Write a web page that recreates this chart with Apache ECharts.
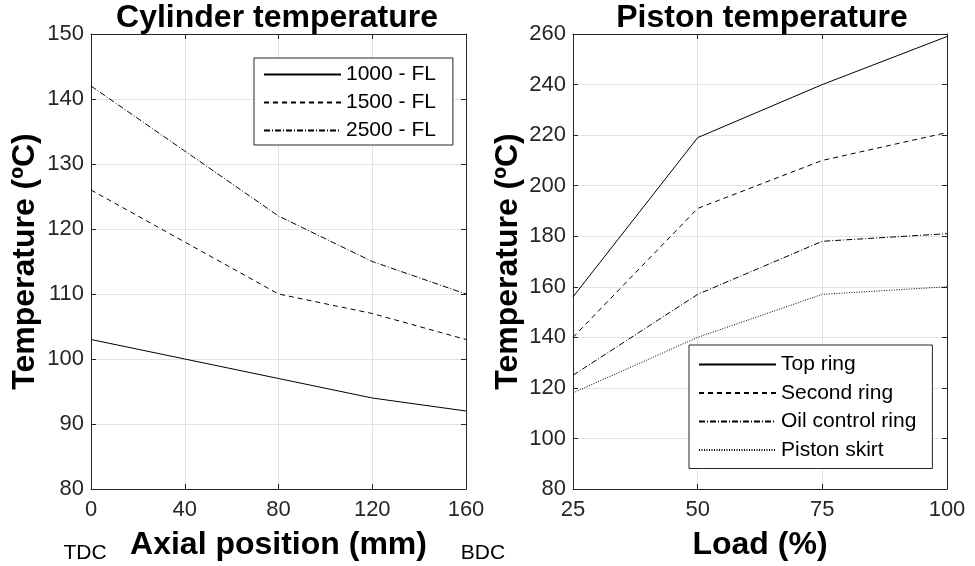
<!DOCTYPE html>
<html><head><meta charset="utf-8">
<script src="https://cdn.jsdelivr.net/npm/echarts@6/dist/echarts.min.js"></script>
<style>html,body{margin:0;padding:0;background:#fff}#c{width:975px;height:566px}</style>
</head><body><div id="c"></div>
<script>
// ---- data ----
const axialPos = [0, 40, 80, 120, 160];
const cyl1000 = [103, 100, 97, 94, 92];
const cyl1500 = [126, 118, 110, 107, 103];
const cyl2500 = [142, 132, 122, 115, 110];

const loadPct = [25, 50, 75, 100];
const topRing = [156, 219, 240, 259];
const secondRing = [140, 191, 210, 221];
const oilRing = [125, 157, 178, 181];
const pistonSkirt = [118, 140, 157, 160];

const FONT = 'Liberation Sans, Arial, Helvetica, sans-serif';
const AX = '#262626';
const pairs = (xs, ys) => xs.map((x, i) => [x, ys[i]]);

const chart = echarts.init(document.getElementById('c'), null, {renderer: 'canvas'});

function xAx(gi, min, max, interval, name, top) {
  return {
    type: 'value', gridIndex: gi, min, max, interval,
    position: top ? 'top' : 'bottom',
    name: top ? '' : name, nameLocation: 'middle', nameGap: 40,
    nameTextStyle: {fontFamily: FONT, fontSize: 32, fontWeight: 'bold', color: '#000'},
    axisLine: {show: true, onZero: false, lineStyle: {color: AX, width: 1}},
    axisTick: {show: true, inside: true, length: 5, lineStyle: {color: AX}},
    axisLabel: {show: !top, fontFamily: FONT, fontSize: 22, color: AX, margin: 10},
    splitLine: {show: !top, lineStyle: {color: '#e3e3e3', width: 1}}
  };
}
function yAx(gi, min, max, interval, right, gap) {
  return {
    type: 'value', gridIndex: gi, min, max, interval,
    position: right ? 'right' : 'left',
    name: right ? '' : 'Temperature (ºC)', nameLocation: 'middle', nameGap: gap,
    nameTextStyle: {fontFamily: FONT, fontSize: 32, fontWeight: 'bold', color: '#000'},
    axisLine: {show: true, onZero: false, lineStyle: {color: AX, width: 1}},
    axisTick: {show: true, inside: true, length: 5, lineStyle: {color: AX}},
    axisLabel: {show: !right, fontFamily: FONT, fontSize: 22, color: AX, margin: 7},
    splitLine: {show: !right, lineStyle: {color: '#e3e3e3', width: 1}}
  };
}
function ser(name, xi, yi, data, type) {
  return {
    name, type: 'line', xAxisIndex: xi, yAxisIndex: yi, data, symbol: 'none',
    animation: false, itemStyle: {color: '#000'},
    lineStyle: {color: '#000', width: 1, type}
  };
}
const legendText = {fontFamily: FONT, fontSize: 21, color: '#000'};

chart.setOption({
  animation: false,
  title: [
    {text: 'Cylinder temperature', left: 272, top: -3, textAlign: 'center',
     textStyle: {fontFamily: FONT, fontSize: 32, fontWeight: 'bold', color: '#000'}},
    {text: 'Piston temperature', left: 757, top: -3, textAlign: 'center',
     textStyle: {fontFamily: FONT, fontSize: 32, fontWeight: 'bold', color: '#000'}},
    {text: 'TDC', left: 80, top: 538, textAlign: 'center',
     textStyle: {fontFamily: FONT, fontSize: 21, fontWeight: 'normal', color: '#000'}},
    {text: 'BDC', left: 478, top: 538, textAlign: 'center',
     textStyle: {fontFamily: FONT, fontSize: 21, fontWeight: 'normal', color: '#000'}}
  ],
  grid: [
    {left: 91, top: 34, width: 375, height: 457},
    {left: 573, top: 34, width: 374, height: 457}
  ],
  xAxis: [
    xAx(0, 0, 160, 40, 'Axial position (mm)', false),
    xAx(1, 25, 100, 25, 'Load (%)', false),
    xAx(0, 0, 160, 40, '', true),
    xAx(1, 25, 100, 25, '', true)
  ],
  yAxis: [
    yAx(0, 80, 150, 10, false, 50),
    yAx(1, 80, 260, 20, false, 49),
    yAx(0, 80, 150, 10, true, 0),
    yAx(1, 80, 260, 20, true, 0)
  ],
  legend: [
    {data: ['1000 - FL', '1500 - FL', '2500 - FL'], orient: 'vertical',
     left: 254, top: 58, itemWidth: 77, itemHeight: 10, itemGap: 7,
     padding: [6, 17, 4, 9], borderColor: AX, borderWidth: 1, backgroundColor: '#fff',
     itemStyle: {opacity: 0}, textStyle: legendText, selectedMode: false},
    {data: ['Top ring', 'Second ring', 'Oil control ring', 'Piston skirt'], orient: 'vertical',
     left: 689, top: 345, itemWidth: 77, itemHeight: 10, itemGap: 7.5,
     padding: [9, 16, 8, 9], borderColor: AX, borderWidth: 1, backgroundColor: '#fff',
     itemStyle: {opacity: 0}, textStyle: legendText, selectedMode: false}
  ],
  series: [
    ser('1000 - FL', 0, 0, pairs(axialPos, cyl1000), 'solid'),
    ser('1500 - FL', 0, 0, pairs(axialPos, cyl1500), [5, 4]),
    ser('2500 - FL', 0, 0, pairs(axialPos, cyl2500), [6, 2, 1, 2]),
    ser('Top ring', 1, 1, pairs(loadPct, topRing), 'solid'),
    ser('Second ring', 1, 1, pairs(loadPct, secondRing), [5, 4]),
    ser('Oil control ring', 1, 1, pairs(loadPct, oilRing), [6, 2, 1, 2]),
    ser('Piston skirt', 1, 1, pairs(loadPct, pistonSkirt), [1, 1.5])
  ]
});
</script></body></html>
